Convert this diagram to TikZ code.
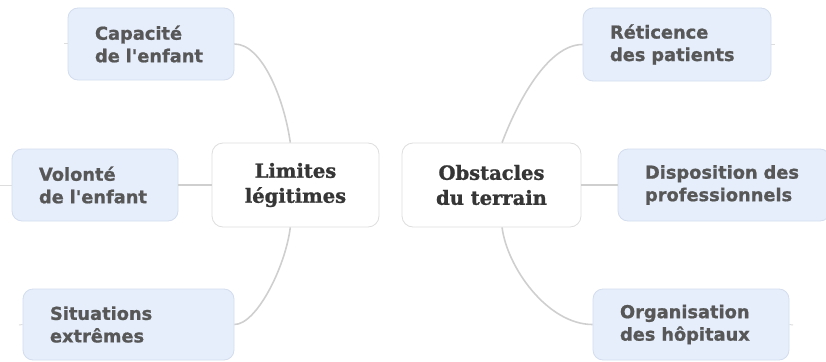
\documentclass[tikz,border=0pt]{standalone}
\usepackage{fontspec}
\setmainfont{DejaVu Sans}[BoldFeatures={FakeBold=1.0}]
\newfontfamily\hubfont{DejaVu Serif}[BoldFeatures={FakeBold=1.2}]
\definecolor{leafFill}{HTML}{E6EEFB}
\definecolor{leafLine}{HTML}{D3DDEE}
\definecolor{leafText}{HTML}{575757}
\definecolor{hubLine}{HTML}{DEDEDE}
\definecolor{hubText}{HTML}{363636}
\definecolor{branchGray}{HTML}{CFCFCF}
\begin{document}
\begin{tikzpicture}
[x=1pt,y=-1pt,
  lineDecorate/.style={-,line width=1.6pt,draw=branchGray},%
  stubDecorate/.style={-,line width=1pt,draw=branchGray!70},%
  leafDecorate/.style={shape=rectangle,rounded corners=10pt,draw=leafLine,fill=leafFill,
    line width=0.8pt,align=left,text=leafText,inner xsep=27pt,minimum height=72pt,
    font=\bfseries\fontsize{17.8}{22.5}\selectfont},%
  hubDecorate/.style={shape=rectangle,rounded corners=11pt,draw=hubLine,fill=white,
    line width=0.8pt,align=center,text=hubText,minimum height=84pt,
    font=\hubfont\bfseries\fontsize{19.5}{25}\selectfont}]
\useasboundingbox (0,0) rectangle (826,361);
%% centre nodes
\node (lim) at (295.5,185) [hubDecorate,minimum width=167pt] {Limites\\légitimes};
\node (obs) at (491.5,185) [hubDecorate,minimum width=179pt] {Obstacles\\du terrain};
%% leaves on the left
\node (cap) at (151,44) [leafDecorate,text width=112pt] {Capacité\\de l\textquotesingle enfant};
\node (vol) at (95,185) [leafDecorate,text width=112pt] {Volonté\\de l\textquotesingle enfant};
\node (sit) at (128.5,324.5) [leafDecorate,text width=157pt,minimum height=71pt] {Situations\\extrêmes};
%% leaves on the right
\node (ret) at (677,44.5) [leafDecorate,text width=134pt,minimum height=73pt] {Réticence\\des patients};
\node (dis) at (724,185) [leafDecorate,text width=158pt] {Disposition des\\professionnels};
\node (org) at (691,324.5) [leafDecorate,text width=142pt,minimum height=71pt] {Organisation\\des hôpitaux};
%% stubs that should only peek out
\coordinate (capStub) at (64,44);
\coordinate (volStub) at (0,185);
\coordinate (sitStub) at (19,325);
\coordinate (retStub) at (775,44.5);
\coordinate (orgStub) at (793,325);
%% branches
\draw [lineDecorate] (cap.east) .. controls +(28,0) and +(-6,-43) .. (lim.97);
\draw [lineDecorate] (vol.east) -- (lim.west);
\draw [lineDecorate] (sit.east) .. controls +(22,0) and +(-5,40) .. (lim.263);
\draw [lineDecorate] (ret.west) .. controls +(-35,0) and +(15,-40) .. (obs.76);
\draw [lineDecorate] (obs.east) -- (dis.west);
\draw [lineDecorate] (org.west) .. controls +(-45,0) and +(5,40) .. (obs.284);
\draw [stubDecorate] (cap.west) -- (capStub);
\draw [stubDecorate] (vol.west) -- (volStub);
\draw [stubDecorate] (sit.west) -- (sitStub);
\draw [stubDecorate] (ret.east) -- (retStub);
\draw [stubDecorate] (org.east) -- (orgStub);
\end{tikzpicture}
\end{document}
